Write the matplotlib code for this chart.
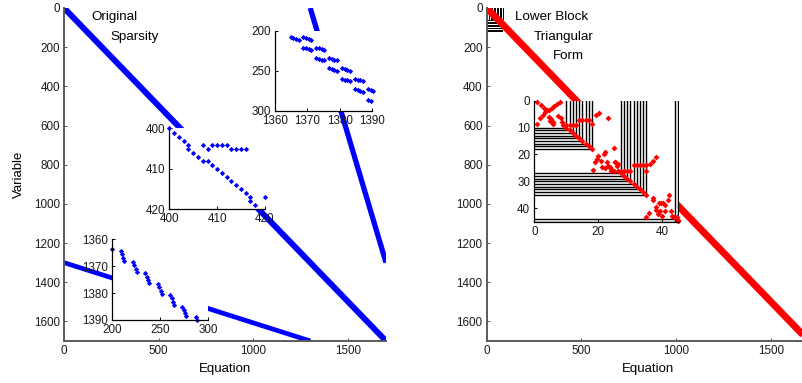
import matplotlib
matplotlib.use('Agg')
from matplotlib import pyplot as plt

plt.rcParams['font.family'] = ['Liberation Sans', 'DejaVu Sans']

# ---- data ----
n_size = 1700

# dense bands of the original matrix (start -> end), (equation, variable)
band_x0 = [0, 1300, 0]
band_y0 = [0, 0, 1300]
band_x1 = [1700, 1700, 1300]
band_y1 = [1700, 1300, 1700]

# diagonal of the lower block triangular form
btf_x = [0, 1700]
btf_y = [0, 1700]

# zoom A : rows/cols 400-420
a_x = [400, 401, 402, 403, 404, 404, 405, 406, 407, 408, 409, 410, 411, 412, 413,
       414, 415, 416, 417, 417, 418, 420,
       407, 408, 409, 410, 411, 412, 413, 414, 415, 416]
a_y = [400, 401, 402, 403, 404, 405, 406, 407, 408, 408, 409, 410, 411, 412, 413,
       414, 415, 416, 417, 418, 419, 417,
       404, 405, 404, 404, 404, 404, 405, 405, 405, 405]

# zoom B : equations 1360-1390, variables 200-300
b_x = [1364.8, 1365.6, 1366.5, 1367.3, 1368.8, 1369.6, 1370.4, 1371.2,
       1368.8, 1369.6, 1370.4, 1371.2, 1372.8, 1373.6, 1374.4, 1375.2,
       1372.8, 1373.6, 1374.4, 1375.2, 1376.8, 1377.6, 1378.4, 1379.2,
       1376.8, 1377.6, 1378.4, 1379.2, 1380.8, 1381.6, 1382.4, 1383.2,
       1380.8, 1381.6, 1382.4, 1383.2, 1384.8, 1385.6, 1386.4, 1387.2,
       1384.8, 1385.6, 1386.4, 1387.2, 1388.9, 1389.7, 1390.4,
       1388.9, 1389.7]
b_y = [208, 209, 210, 211, 208, 209, 210, 211,
       221, 222, 223, 224, 221, 222, 223, 224,
       234, 235, 236, 237, 234, 235, 236, 237,
       247, 248, 249, 250, 247, 248, 249, 250,
       260, 261, 262, 263, 260, 261, 262, 263,
       273, 274, 275, 276, 273, 274, 275,
       286, 287.5]

# zoom C : equations 200-300, variables 1360-1390
c_x = [200.3,
       209.3, 210.5, 211.8, 213.0,
       222.4, 223.6, 224.7, 225.9,
       235.0, 236.2, 237.4, 238.6,
       248.0, 249.3, 250.7, 252.0,
       261.0, 262.3, 263.7, 265.0,
       273.4, 274.8, 276.2, 277.6,
       287.0, 288.5]
c_y = [1363.7,
       1364.3, 1365.5, 1366.8, 1368.0,
       1368.3, 1369.6, 1371.0, 1372.3,
       1372.6, 1373.9, 1375.1, 1376.4,
       1376.7, 1377.9, 1379.2, 1380.4,
       1380.8, 1382.0, 1383.3, 1384.5,
       1385.0, 1386.2, 1387.3, 1388.5,
       1389.0, 1390.0]

# zoom D : first 45 rows/cols of the BTF, block limits
blk_a = [10, 11, 12, 13, 14, 15, 16, 17, 18]
blk_b = [27, 28, 29, 30, 31, 32, 33, 34, 35]
blk_c = [44, 45]
# lines of the block in the full view
full_vx = [4, 12, 20, 28, 36, 44, 52, 60, 68, 76, 84]
full_vtop = 56
full_hy = [62, 70, 78, 86, 94, 102, 110, 116]
full_hlen = 78

d_x = [0.9, 2.1, 3.1, 3.9, 8.0, 7.2, 6.2, 5.4, 4.5, 3.5, 2.6, 1.9, 1.0,
       4.7, 5.2, 4.9, 5.7, 5.9, 7.3, 8.3, 8.8,
       9, 10, 11, 12, 13, 14, 15, 16, 17, 18.1, 19.2, 20.1, 23.1,
       10, 11, 12, 13, 14, 15, 16, 17, 18,
       18.2, 18.9, 19.6, 20.0, 20.7, 21.1, 21.8, 22.1, 22.7, 23.6, 24.1, 24.9,
       25.2, 25.9, 23.0, 22.0, 25.1, 26.0,
       24, 25, 26, 27, 28, 29, 30, 31, 32, 33, 34, 35, 35, 36, 37, 37.9,
       27, 28, 29, 30, 31, 32, 33, 34, 35,
       37.0, 37.0, 38.9, 38.1, 39.2, 40.2, 40.7, 40.7, 35.8, 35.0, 42.8, 43.8,
       44.6, 45.0, 44.9, 42.1, 41.7, 39.6, 38.0, 39.9, 43.0, 38.5]
d_y = [0.4, 1.6, 2.6, 3.5, 0.4, 1.2, 2.1, 2.8, 3.6, 4.3, 5.3, 6.3, 8.8,
       6.2, 6.9, 7.5, 7.8, 8.6, 5.6, 6.6, 7.8,
       9, 9, 9, 9, 9, 7, 7, 7, 7, 8.7, 5.3, 4.6, 6.6,
       10, 11, 12, 13, 14, 15, 16, 17, 18,
       25.8, 22.9, 21.7, 20.7, 22.4, 24.5, 19.9, 19.0, 22.9, 24.5, 25.4, 17.7,
       22.9, 24.2, 24.4, 25.0, 22.8, 23.5,
       26, 26, 26, 26, 26, 26, 26, 24, 24, 24, 24, 24, 26, 23.5, 22.5, 21,
       27, 28, 29, 30, 31, 32, 33, 34, 35,
       36.0, 37.0, 38.0, 39.6, 41.0, 38.0, 38.6, 41.0, 41.7, 43.4, 41.1, 43.4,
       43.4, 44.2, 44.8, 35.1, 36.9, 38.2, 40.6, 42.9, 43.0, 42.0]

BLUE = '#0000ff'
RED = '#ff0000'
TICK_FS = 8.4
LABEL_FS = 9.5


def style_axes(ax, main=False):
    ax.spines['top'].set_visible(False)
    ax.spines['right'].set_visible(False)
    col = '#5a5a5a' if main else 'black'
    for s in ['left', 'bottom']:
        ax.spines[s].set_color(col)
        ax.spines[s].set_linewidth(1.4 if main else 0.9)
    ax.tick_params(direction='in', length=2.5, width=0.7, colors=col,
                   labelcolor='#1a1a1a', labelsize=TICK_FS, pad=3)
    ax.set_facecolor('white')


fig = plt.figure(figsize=(8.02, 3.83), dpi=100)

# ---------- left : original sparsity ----------
ax1 = fig.add_axes([0.0798, 0.1097, 0.4015, 0.8695])
band_lw = [4.3, 3.8, 3.4]
for i in range(len(band_x0)):
    ax1.plot([band_x0[i], band_x1[i]], [band_y0[i], band_y1[i]], color=BLUE,
             lw=band_lw[i], solid_capstyle='butt')
ax1.set_xlim(0, n_size)
ax1.set_ylim(n_size, 0)
ax1.set_xticks([0, 500, 1000, 1500])
ax1.set_yticks(range(0, 1601, 200))
style_axes(ax1, main=True)
ax1.set_xlabel('Equation', fontsize=LABEL_FS)
ax1.set_ylabel('Variable', fontsize=LABEL_FS)
ax1.xaxis.set_label_coords(0.5, -0.066)
ax1.yaxis.set_label_coords(-0.122, 0.5)
ax1.text(147, 48, 'Original', fontsize=9.6, ha='left', va='center')
ax1.text(247, 150, 'Sparsity', fontsize=9.6, ha='left', va='center')

# inset A
axa = fig.add_axes([0.2111, 0.4535, 0.1191, 0.2110])
axa.plot(a_x, a_y, 'D', color=BLUE, ms=2.7, mew=0, clip_on=False)
axa.set_xlim(400, 420)
axa.set_ylim(420, 400)
axa.set_xticks([400, 410, 420])
axa.set_yticks([400, 410, 420])
style_axes(axa)

# inset B
axb = fig.add_axes([0.3429, 0.7102, 0.1209, 0.2097])
axb.plot(b_x, b_y, 'D', color=BLUE, ms=2.7, mew=0, clip_on=False)
axb.set_xlim(1360, 1390)
axb.set_ylim(300, 200)
axb.set_xticks([1360, 1370, 1380, 1390])
axb.set_yticks([200, 250, 300])
style_axes(axb)

# inset C
axc = fig.add_axes([0.1393, 0.1645, 0.1201, 0.2107])
axc.plot(c_x, c_y, 'D', color=BLUE, ms=2.7, mew=0, clip_on=False)
axc.set_xlim(200, 300)
axc.set_ylim(1390, 1360)
axc.set_xticks([200, 250, 300])
axc.set_yticks([1360, 1370, 1380, 1390])
style_axes(axc)

# ---------- right : lower block triangular form ----------
ax2 = fig.add_axes([0.6069, 0.1097, 0.4017, 0.8695])
for x in full_vx:
    ax2.plot([x, x], [0, full_vtop], color='black', lw=0.7)
for y in full_hy:
    ax2.plot([0, full_hlen], [y, y], color='black', lw=0.7)
ax2.plot(btf_x, btf_y, color=RED, lw=5.0, solid_capstyle='butt')
ax2.set_xlim(0, n_size)
ax2.set_ylim(n_size, 0)
ax2.set_xticks([0, 500, 1000, 1500])
ax2.set_yticks(range(0, 1601, 200))
style_axes(ax2, main=True)
ax2.set_xlabel('Equation', fontsize=LABEL_FS)
ax2.xaxis.set_label_coords(0.5, -0.066)
ax2.text(149, 48, 'Lower Block', fontsize=9.6, ha='left', va='center')
ax2.text(250, 150, 'Triangular', fontsize=9.6, ha='left', va='center')
ax2.text(350, 244, 'Form', fontsize=9.6, ha='left', va='center')

# inset D
axd = fig.add_axes([0.6662, 0.4196, 0.1804, 0.3175])
for grp in [blk_a, blk_b]:
    for k in grp:
        axd.plot([k, k], [0, k], color='black', lw=1.0)
        axd.plot([0, k], [k, k], color='black', lw=1.0)
for k in blk_c:
    axd.plot([k, k], [0, 45.2], color='black', lw=1.0)
    axd.plot([0, 45.2], [k, k], color='black', lw=1.0)
axd.plot(d_x, d_y, 'D', color=RED, ms=3.0, mew=0, clip_on=False)
axd.set_xlim(0, 45.2)
axd.set_ylim(45.2, 0)
axd.set_xticks([0, 20, 40])
axd.set_yticks([0, 10, 20, 30, 40])
style_axes(axd)

fig.savefig('out.png', dpi=100)
